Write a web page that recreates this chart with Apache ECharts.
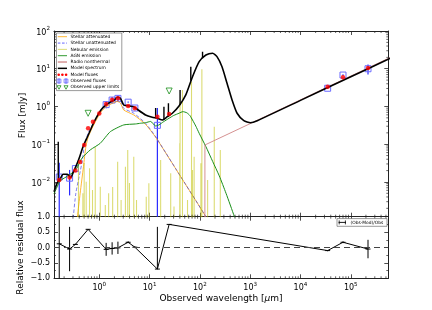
<!DOCTYPE html>
<html><head><meta charset="utf-8">
<script src="https://cdn.jsdelivr.net/npm/echarts@6/dist/echarts.min.js"></script>
<style>html,body{margin:0;padding:0;background:#fff}#c{width:432px;height:310px}</style>
</head><body><div id="c"></div>
<script>
// ---------------- data ----------------
// Model spectrum (black)
const specWl   = [0.126,0.1466,0.166,0.1905,0.232,0.2716,0.302,0.342,0.398,0.4634,0.525,0.583,0.794,1.08,1.36,1.714,1.995,2.26,2.63,3.06,3.58,4.85,5.67,8.32,11.3,14.3,17.9,22.6,28.4,38.5,52.5,71.4,96.8,131.8,179.5,218.8,275.4,346.7,436.5,549.5,748,1014,1380,10000,100000,611000];
const specFlux = [0.00553,0.00957,0.0118,0.016,0.016,0.013,0.0176,0.0254,0.0425,0.078,0.117,0.158,0.395,0.807,1.096,1.34,1.486,1.75,1.65,1.096,1.05,0.989,0.843,0.596,0.518,0.486,0.438,0.537,0.661,1.03,2.02,6.15,15.4,23.1,25.7,20.9,11.3,4.12,1.486,0.661,0.421,0.372,0.421,1.45,6.14,18.9];
// emission-line spikes on the model spectrum
const spikeWl   = [0.153,13.2,19.3,23.7,40.4,66,113];
const spikeBase = [0.0098,0.49,0.45,0.55,1.1,4.8,19];
const spikeTop  = [0.117,0.91,0.99,1.22,2.73,11.3,28.3];
// Stellar attenuated (orange)
const stelAtWl   = [0.347,0.368,0.417,0.485,0.542,0.603,0.794,1.08,1.36,1.714,2.26,2.63,3.06,4.85,8.32,13.2,20.9,33.1,52.5,83.2,122,182,300];
const stelAtFlux = [0.0005,0.0012,0.00502,0.0254,0.0861,0.156,0.344,0.714,0.97,1.165,1.356,1.24,0.807,0.596,0.337,0.153,0.059,0.0223,0.0084,0.0032,0.0014,0.0006,0.00012];
// Stellar unattenuated (blue dashed)
const stelUnWl   = [0.30,0.306,0.342,0.398,0.463,0.501,0.603,0.794,1.08,1.36,1.714,2.26,2.63,3.06,4.85,8.32,13.2,20.9,33.1,52.5,83.2,122,182,300];
const stelUnFlux = [0.0004,0.0012,0.00502,0.0138,0.0383,0.0861,0.199,0.39,0.78,1.06,1.28,1.58,1.5,0.895,0.661,0.359,0.158,0.0597,0.0225,0.00848,0.0032,0.00142,0.0006,0.00012];
// Nebular emission lines (yellow)
const nebWl   = [0.3855,0.472,0.501,0.5495,0.64,0.734,0.832,1.047,1.318,1.535,1.845,2.32,2.716,3.31,3.68,3.98,4.85,5.5,8.59,9.68,16.6,26.3,30.6,39.8,40.4,45.1,56.8,68.2,71.4,76.9,104.7,109.6,142.6,193.2,254.7];
const nebPeak = [0.0383,0.00502,0.0318,0.0102,0.0231,0.00614,0.0861,0.0075,0.00246,0.00502,0.00738,0.0345,0.00333,0.0254,0.0705,0.0094,0.0468,0.00333,0.00408,0.00925,0.0383,0.017,0.00222,0.106,1.34,2.73,0.00333,4.54,0.0208,0.0468,0.0313,9.66,0.0113,0.292,0.0705];
// AGN emission (green)
const agnWl   = [0.126,0.166,0.219,0.288,0.358,0.451,0.661,1.047,1.66,3.06,5.25,6.61,8.32,10.5,13.2,15.3,19.05,24.3,30.2,38.5,46,55,63,71.4,83.2,96.8,131.8,179.5,243,331,485,661];
const agnFlux = [0.00481,0.0106,0.01355,0.0173,0.0231,0.0425,0.0705,0.106,0.215,0.324,0.344,0.359,0.372,0.401,0.304,0.324,0.396,0.486,0.578,0.661,0.73,0.68,0.58,0.438,0.30,0.195,0.0861,0.035,0.0145,0.005,0.0012,0.0003];
// Radio nonthermal
const radWl   = [125.5,126,1380,34670,611000];
const radFlux = [1e-6,0.0955,0.43,3.29,19.9];
// Model fluxes (red dots)
const modWl   = [0.16,0.257,0.335,0.417,0.501,0.6,0.748,1.0,1.37,1.8,2.35,3.75,5.1,14.3,24.5,34670,70000,220000];
const modFlux = [0.0113,0.01315,0.0202,0.0339,0.0955,0.265,0.395,0.653,1.164,1.5,1.648,1.03,0.895,0.537,0.632,3.34,5.94,10.5];
// Observed fluxes (blue squares) with plotted error
const obsWl   = [0.16,0.257,0.335,1.37,1.8,2.35,3.75,5.1,14.3,34670,70000,220000];
const obsFlux = [0.0135,0.0126,0.0226,1.12,1.48,1.64,1.3,0.91,0.316,3.04,6.8,10.0];
const obsErr  = [0.0186,0.0082,0.002,0.22,0.28,0.32,0.05,0.04,0.6,0.15,0.3,3.0];
// Observed upper limits (green triangles)
const ulWl   = [0.6,24.5];
const ulFlux = [0.66,2.57];
// Relative residuals (Obs-Mod)/Obs
const resWl    = [0.16,0.257,0.335,0.6,1.37,1.8,2.35,3.75,5.1,14.3,24.5,34670,70000,220000];
const resVal   = [0.12,-0.05,0.10,0.59,-0.06,-0.03,-0.01,0.17,0.01,-0.70,0.75,-0.10,0.17,-0.05];
const resErrLo = [3,0.72,0.02,0,0.21,0.2,0.2,0.03,0.03,0,0,0.02,0.03,0.3];
const resErrHi = [3,0.72,0.02,0,0.21,0.2,0.2,0.03,0.03,1.37,0,0.02,0.03,0.3];
// axis ranges and tick labels
const X_MIN = 0.1259, X_MAX = 557000, Y_MIN = 0.0012, Y_MAX = 100;
const xDecades = [0,1,2,3,4,5];
const yDecades = [-2,-1,0,1,2];
const resTicks = [-1,-0.5,0,0.5,1];
const legendNames = ['Stellar attenuated','Stellar unattenuated','Nebular emission','AGN emission','Radio nonthermal','Model spectrum','Model fluxes','Observed fluxes','Observed upper limits'];

// ---------------- chart ----------------
const FONT = 'DejaVu Sans';
const zip = (a, b) => a.map((v, i) => [v, b[i]]);
const chart = echarts.init(document.getElementById('c'), null, {renderer: 'canvas', width: 432, height: 310});

function supLabel(v, allowed) {
  const e = Math.log10(v), r = Math.round(e);
  if (Math.abs(e - r) > 1e-6 || allowed.indexOf(r) < 0) return '';
  return '{b|10}{s|' + (r < 0 ? '\u2212' : '') + Math.abs(r) + '}';
}
const richSup = {
  b: {fontSize: 8, fontFamily: FONT, lineHeight: 11, verticalAlign: 'bottom', color: '#000'},
  s: {fontSize: 5.6, fontFamily: FONT, lineHeight: 5, verticalAlign: 'top', color: '#000'}
};
const AX = '#222';
function logX(grid, pos, labels) {
  return {
    type: 'log', logBase: 10, gridIndex: grid, position: pos, min: X_MIN, max: X_MAX,
    axisLine: {show: true, onZero: false, lineStyle: {color: AX, width: 1}},
    axisTick: {show: true, inside: true, length: 4, lineStyle: {color: AX, width: 0.8}},
    axisLabel: labels ? {show: true, margin: 3, formatter: v => supLabel(v, xDecades), rich: richSup} : {show: false},
    splitLine: {show: false}
  };
}
function logY(pos, labels) {
  return {
    type: 'log', logBase: 10, gridIndex: 0, position: pos, min: Y_MIN, max: Y_MAX,
    axisLine: {show: true, onZero: false, lineStyle: {color: AX, width: 1}},
    axisTick: {show: true, inside: true, length: 4, lineStyle: {color: AX, width: 0.8}},
    axisLabel: labels ? {show: true, margin: 4, formatter: v => supLabel(v, yDecades), rich: richSup} : {show: false},
    splitLine: {show: false}
  };
}
function resY(pos, labels) {
  return {
    type: 'value', gridIndex: 1, position: pos, min: resTicks[0], max: resTicks[resTicks.length - 1], interval: 0.5,
    axisLine: {show: true, onZero: false, lineStyle: {color: AX, width: 1}},
    axisTick: {show: true, inside: true, length: 4, lineStyle: {color: AX, width: 0.8}},
    minorTick: {show: true, splitNumber: 2, length: 2, lineStyle: {color: AX, width: 0.7}},
    axisLabel: labels ? {show: true, margin: 4, fontSize: 8, fontFamily: FONT, color: '#000',
      formatter: v => resTicks.indexOf(v) >= 0 ? v.toFixed(1).replace('-', '\u2212') : ''} : {show: false},
    splitLine: {show: false}
  };
}

function minorLog(lo, hi) {
  const out = [];
  for (let d = Math.floor(Math.log10(lo)); d <= Math.ceil(Math.log10(hi)); d++)
    for (let k = 2; k <= 9; k++) { const v = k * Math.pow(10, d); if (v > lo && v < hi) out.push(v); }
  return out;
}
const tickStyle = {stroke: AX, lineWidth: 0.7};
function minorXSeries(xi, yi, yval) {
  return {type: 'custom', xAxisIndex: xi, yAxisIndex: yi, silent: true, z: 10,
    data: minorLog(X_MIN, X_MAX).map(v => [v, yval]),
    renderItem: (params, api) => {
      const cs = params.coordSys, x = api.coord([api.value(0), api.value(1)])[0];
      return {type: 'group', children: [
        {type: 'line', shape: {x1: x, y1: cs.y + cs.height, x2: x, y2: cs.y + cs.height - 2}, style: tickStyle},
        {type: 'line', shape: {x1: x, y1: cs.y, x2: x, y2: cs.y + 2}, style: tickStyle}]};
    }};
}
function minorYSeries() {
  return {type: 'custom', xAxisIndex: 0, yAxisIndex: 0, silent: true, z: 10,
    data: minorLog(Y_MIN, Y_MAX).map(v => [1, v]),
    renderItem: (params, api) => {
      const cs = params.coordSys, y = api.coord([api.value(0), api.value(1)])[1];
      return {type: 'group', children: [
        {type: 'line', shape: {x1: cs.x, y1: y, x2: cs.x + 2, y2: y}, style: tickStyle},
        {type: 'line', shape: {x1: cs.x + cs.width, y1: y, x2: cs.x + cs.width - 2, y2: y}, style: tickStyle}]};
    }};
}

const series = [
  {type: 'line', name: 'Stellar attenuated', xAxisIndex: 0, yAxisIndex: 0, data: zip(stelAtWl, stelAtFlux),
   symbol: 'none', smooth: 0.2, lineStyle: {color: '#ffa500', width: 0.8}},
  {type: 'line', name: 'Stellar unattenuated', xAxisIndex: 0, yAxisIndex: 0, data: zip(stelUnWl, stelUnFlux),
   symbol: 'none', smooth: 0.2, lineStyle: {color: 'rgba(40,40,230,0.75)', width: 0.8, type: [3.5, 2]}},
  {type: 'line', name: 'Nebular emission', xAxisIndex: 0, yAxisIndex: 0,
   data: nebWl.flatMap((w, i) => [[w, 1e-6], [w, nebPeak[i]], [w, '-']]),
   symbol: 'none', connectNulls: false, lineStyle: {color: 'rgba(191,191,0,0.55)', width: 1.1}},
  {type: 'line', name: 'AGN emission', xAxisIndex: 0, yAxisIndex: 0, data: zip(agnWl, agnFlux),
   symbol: 'none', smooth: 0.2, lineStyle: {color: '#1a8f1a', width: 1}},
  {type: 'line', name: 'Radio nonthermal', xAxisIndex: 0, yAxisIndex: 0, data: zip(radWl, radFlux),
   symbol: 'none', lineStyle: {color: '#cf8585', width: 0.9}},
  {type: 'line', name: 'Model spectrum', xAxisIndex: 0, yAxisIndex: 0, data: zip(specWl, specFlux),
   symbol: 'none', smooth: 0.2, lineStyle: {color: '#000', width: 1.6}},
  {type: 'line', name: 'Model spectrum lines', xAxisIndex: 0, yAxisIndex: 0,
   data: spikeWl.flatMap((w, i) => [[w, spikeBase[i]], [w, spikeTop[i]], [w, '-']]),
   symbol: 'none', connectNulls: false, lineStyle: {color: '#000', width: 1.4}},
  {type: 'custom', name: 'Observed fluxes', xAxisIndex: 0, yAxisIndex: 0,
   data: obsWl.map((w, i) => [w, obsFlux[i], obsErr[i]]),
   renderItem: (params, api) => {
     const cs = params.coordSys, x = api.value(0), y = api.value(1), e = api.value(2);
     let lo = y - e; if (lo <= Y_MIN) lo = Y_MIN * 0.5;
     const pc = api.coord([x, y]), p0 = api.coord([x, lo]), p1 = api.coord([x, y + e]);
     const y0 = Math.min(p0[1], cs.y + cs.height), y1 = Math.max(p1[1], cs.y);
     return {type: 'group', children: [
       {type: 'line', shape: {x1: pc[0], y1: y0, x2: pc[0], y2: y1}, style: {stroke: '#2a2aff', lineWidth: 1.2}},
       {type: 'rect', shape: {x: pc[0] - 3, y: pc[1] - 3, width: 6, height: 6}, style: {fill: 'none', stroke: '#6a6aff', lineWidth: 1}}]};
   }},
  {type: 'scatter', name: 'Observed upper limits', xAxisIndex: 0, yAxisIndex: 0, data: zip(ulWl, ulFlux),
   symbol: 'triangle', symbolRotate: 180, symbolSize: 6,
   itemStyle: {color: 'rgba(0,0,0,0)', borderColor: '#1a8f1a', borderWidth: 1}},
  {type: 'scatter', name: 'Model fluxes', xAxisIndex: 0, yAxisIndex: 0, data: zip(modWl, modFlux),
   symbol: 'circle', symbolSize: 4.5, z: 5, itemStyle: {color: '#ff0000'}},
  // residual panel
  {type: 'line', name: '(Obs-Mod)/Obs', xAxisIndex: 2, yAxisIndex: 2, data: zip(resWl, resVal),
   symbol: 'rect', symbolSize: [5, 1], itemStyle: {color: '#000'}, lineStyle: {color: '#000', width: 1},
   markLine: {silent: true, symbol: 'none', label: {show: false}, data: [{yAxis: 0}],
     lineStyle: {color: '#444', width: 1.2, type: [6, 4]}}},
  {type: 'custom', name: 'resErr', xAxisIndex: 2, yAxisIndex: 2,
   data: resWl.map((w, i) => [w, resVal[i], resErrLo[i], resErrHi[i]]),
   renderItem: (params, api) => {
     const x = api.value(0), y = api.value(1);
     const lo = Math.max(y - api.value(2), -1), hi = Math.min(y + api.value(3), 1);
     if (api.value(2) === 0 && api.value(3) === 0) return {type: 'group', children: []};
     const p0 = api.coord([x, lo]), p1 = api.coord([x, hi]);
     return {type: 'line', shape: {x1: p0[0], y1: p0[1], x2: p1[0], y2: p1[1]}, style: {stroke: '#000', lineWidth: 1}};
   }},
  minorXSeries(0, 0, 1),
  minorYSeries(),
  minorXSeries(2, 2, 0)
];

// legend drawn as graphic elements
const LX = 57.8, LX2 = 67, TX = 70.5, LY0 = 36.7, LDY = 6.33;
const g = [{type: 'rect', shape: {x: 56.5, y: 33, width: 65.3, height: 57.6}, style: {fill: '#fff', stroke: '#555', lineWidth: 0.6}, z: 50}];
const lineIcon = (i, stroke, w, dash) => ({type: 'line', z: 51, shape: {x1: LX, y1: LY0 + i * LDY, x2: LX2, y2: LY0 + i * LDY},
  style: {stroke, lineWidth: w, lineDash: dash || null}});
g.push(lineIcon(0, '#ffa500', 0.8));
g.push(lineIcon(1, 'rgba(60,60,255,0.45)', 1.8, [2.6, 1.6]));
g.push(lineIcon(2, 'rgba(191,191,0,0.6)', 0.9));
g.push(lineIcon(3, '#1a8f1a', 0.9));
g.push(lineIcon(4, '#cf8585', 1.3));
g.push(lineIcon(5, '#000', 1.5));
[58.7, 62.4, 66.1].forEach(x => g.push({type: 'circle', z: 51, shape: {cx: x, cy: LY0 + 6 * LDY, r: 1.3}, style: {fill: '#ff0000'}}));
[59, 66].forEach(x => {
  const y = LY0 + 7 * LDY;
  g.push({type: 'line', z: 51, shape: {x1: x, y1: y - 2.6, x2: x, y2: y + 2.6}, style: {stroke: '#2a2aff', lineWidth: 0.9}});
  g.push({type: 'rect', z: 51, shape: {x: x - 1.9, y: y - 1.9, width: 3.8, height: 3.8}, style: {fill: 'none', stroke: '#6a6aff', lineWidth: 0.8}});
  const yt = LY0 + 8 * LDY;
  g.push({type: 'polygon', z: 51, shape: {points: [[x - 2, yt - 1.6], [x + 2, yt - 1.6], [x, yt + 1.9]]}, style: {fill: 'none', stroke: '#1a8f1a', lineWidth: 0.8}});
});
legendNames.forEach((t, i) => g.push({type: 'text', z: 51, x: TX, y: LY0 + i * LDY,
  style: {text: t, fontSize: 4.4, fontFamily: FONT, fill: '#000', verticalAlign: 'middle', align: 'left'}}));
// residual legend
g.push({type: 'rect', z: 50, shape: {x: 337, y: 218.6, width: 50, height: 7.7}, style: {fill: '#fff', stroke: '#555', lineWidth: 0.6}});
g.push({type: 'line', z: 51, shape: {x1: 338.6, y1: 222.4, x2: 346, y2: 222.4}, style: {stroke: '#000', lineWidth: 0.9}});
[339.2, 345.4].forEach(x => g.push({type: 'line', z: 51, shape: {x1: x, y1: 220.4, x2: x, y2: 224.4}, style: {stroke: '#000', lineWidth: 0.8}}));
g.push({type: 'text', z: 51, x: 350.5, y: 222.4, style: {text: '(Obs-Mod)/Obs', fontSize: 4.4, fontFamily: FONT, fill: '#000', verticalAlign: 'middle', align: 'left'}});
// axis titles
g.push({type: 'text', x: 23, y: 115.5, rotation: Math.PI / 2,
  style: {text: 'Flux [mJy]', fontSize: 9, fontFamily: FONT, fill: '#000', align: 'center', verticalAlign: 'middle'}});
g.push({type: 'text', x: 21, y: 247.5, rotation: Math.PI / 2,
  style: {text: 'Relative residual flux', fontSize: 9, fontFamily: FONT, fill: '#000', align: 'center', verticalAlign: 'middle'}});
g.push({type: 'text', x: 221, y: 298.5,
  style: {text: 'Observed wavelength [{i|\u03bc}m]', fontSize: 9, fontFamily: FONT, fill: '#000', align: 'center', verticalAlign: 'middle',
    rich: {i: {fontSize: 9, fontFamily: FONT, fontStyle: 'italic'}}}});

chart.setOption({
  animation: false,
  backgroundColor: '#fff',
  grid: [
    {left: 54, top: 31, width: 334.3, height: 185.7, containLabel: false},
    {left: 54, top: 216.7, width: 334.3, height: 61.6, containLabel: false}
  ],
  xAxis: [logX(0, 'bottom', false), logX(0, 'top', false), logX(1, 'bottom', true), logX(1, 'top', false)],
  yAxis: [logY('left', true), logY('right', false), resY('left', true), resY('right', false)],
  series: series,
  graphic: g
});
</script></body></html>
